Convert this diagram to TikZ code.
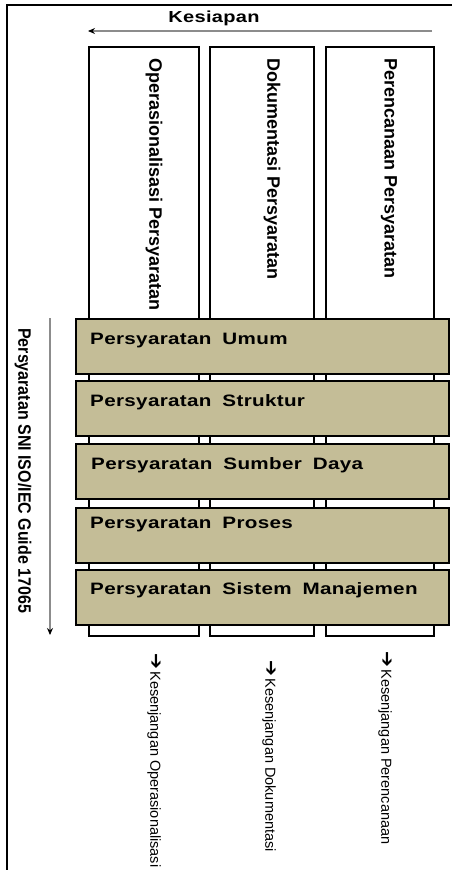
\documentclass[tikz,border=0pt]{standalone}
\usepackage{fontspec}
\setmainfont{Liberation Sans}
\newfontfamily\widefont{Liberation Sans}[FakeStretch=1.25, LetterSpace=2, WordSpace=1.8]
\newfontfamily\arrowfont{DejaVu Sans}
\usetikzlibrary{arrows.meta}
\definecolor{tan}{HTML}{C4BD97}
\definecolor{guide}{HTML}{8C8C8C}
\tikzset{
  colbox/.style={draw=black, line width=2pt, fill=white, inner sep=0pt, anchor=north west},
  reqbox/.style={draw=black, line width=2.4pt, fill=tan, inner sep=0pt, anchor=north west,
                 minimum width=373pt, minimum height=55pt},
  reqtext/.style={anchor=base west, inner sep=0pt, font=\widefont\bfseries\fontsize{16.5}{18}\selectfont},
  headtext/.style={rotate=-90, anchor=west, inner sep=0pt, font=\bfseries\fontsize{18}{20}\selectfont},
  gaptext/.style={rotate=-90, anchor=west, inner sep=0pt, font=\fontsize{14.5}{16}\selectfont},
  guideline/.style={draw=guide, line width=1.4pt, -{Stealth[color=black,length=7pt,width=6pt]}},
  frameline/.style={draw=black, line width=1.5pt}
}
% heavy arrow that leads each gap label
\newcommand{\gaparrowsym}{{\arrowfont\bfseries\fontsize{19}{20}\selectfont ➔}}
\begin{document}
\begin{tikzpicture}[x=1pt, y=-1pt]
  \useasboundingbox (0,0) rectangle (452,870);

  % outer frame (top and left edges)
  \coordinate (fTR) at (452,5);
  \coordinate (fTL) at (7,5);
  \coordinate (fBL) at (7,870);
  \draw[frameline] (fTR) -- (fTL) -- (fBL);

  % readiness direction
  \node[font=\widefont\bfseries\fontsize{16}{18}\selectfont, anchor=base, inner sep=0pt]
    (kesiapan) at (214,23) {Kesiapan};
  \coordinate (kStart) at (432,31);
  \coordinate (kEnd) at (88,31);
  \draw[guideline] (kStart) -- (kEnd);

  % three vertical columns
  \node[colbox, minimum width=110pt, minimum height=589pt] (colO) at (88,46) {};
  \node[colbox, minimum width=104pt, minimum height=589pt] (colD) at (209,46) {};
  \node[colbox, minimum width=108pt, minimum height=589pt] (colP) at (325,46) {};

  \node[headtext] (hO) at (154,58) {Operasionalisasi Persyaratan};
  \node[headtext] (hD) at (272,58) {Dokumentasi Persyaratan};
  \node[headtext] (hP) at (389,58) {Perencanaan Persyaratan};

  % requirement bands
  \node[reqbox] (bUmum) at (75,318) {};
  \node[reqbox] (bStruktur) at (75,380) {};
  \node[reqbox] (bSumber) at (75,443) {};
  \node[reqbox] (bProses) at (75,507) {};
  \node[reqbox] (bSistem) at (75,569) {};

  \node[reqtext] (tUmum) at ([xshift=15pt,yshift=-26pt]bUmum.north west) {Persyaratan Umum};
  \node[reqtext] (tStruktur) at ([xshift=15pt,yshift=-26pt]bStruktur.north west) {Persyaratan Struktur};
  \node[reqtext] (tSumber) at ([xshift=16pt,yshift=-26pt]bSumber.north west) {Persyaratan Sumber Daya};
  \node[reqtext] (tProses) at ([xshift=15pt,yshift=-21pt]bProses.north west) {Persyaratan Proses};
  \node[reqtext] (tSistem) at ([xshift=15pt,yshift=-25pt]bSistem.north west) {Persyaratan Sistem Manajemen};

  % requirement source axis
  \node[rotate=-90, anchor=west, inner sep=0pt, font=\bfseries\fontsize{18}{20}\selectfont]
    (guideLabel) at (23,328) {\scalebox{0.89}[1]{Persyaratan SNI ISO/IEC Guide 17065}};
  \coordinate (gStart) at (50,318);
  \coordinate (gEnd) at (50,635);
  \draw[guideline] (gStart) -- (gEnd);

  % gap outputs below each column
  \node[gaptext] (gO) at (154,653) {\gaparrowsym\,Kesenjangan Operasionalisasi};
  \node[gaptext] (gD) at (269,660) {\gaparrowsym\,Kesenjangan Dokumentasi};
  \node[gaptext] (gP) at (385,651) {\gaparrowsym\,Kesenjangan Perencanaan};
\end{tikzpicture}
\end{document}
